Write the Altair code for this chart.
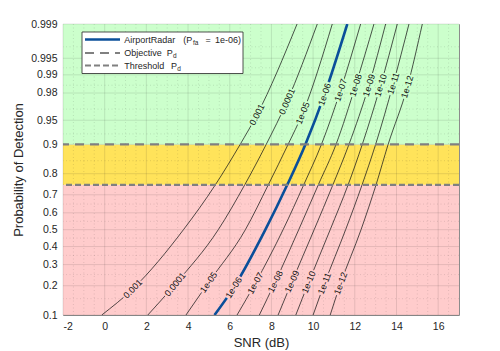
import altair as alt
import pandas as pd
from statistics import NormalDist

_nd = NormalDist()


def probit(p):
    return _nd.inv_cdf(p)


# ---------------- data ----------------
pfa_names = ["0.001", "0.0001", "1e-05", "1e-06", "1e-07",
             "1e-08", "1e-09", "1e-10", "1e-11", "1e-12"]

# SNR (dB) of each Pfa curve at given detection probabilities
snr_at_010 = [-0.14, 2.07, 3.90, 5.27, 6.35, 7.42, 8.32, 9.17, 10.00, 10.82]
snr_at_lo = [1.35, 3.38, 4.99, 6.19, 7.23, 8.19, 8.99, 9.79, 10.55, 11.32]
snr_at_050 = [3.78, 5.45, 6.75, 7.71, 8.56, 9.31, 10.05, 10.82, 11.56, 12.30]
snr_at_075 = [5.31, 6.72, 7.85, 8.76, 9.55, 10.25, 10.95, 11.68, 12.35, 13.02]
snr_at_090 = [6.50, 7.75, 8.80, 9.63, 10.40, 11.10, 11.72, 12.36, 13.00, 13.60]
snr_at_hi = [7.31, 8.75, 9.50, 10.55, 11.32, 12.04, 12.68, 13.24, 13.85, 14.52]
snr_at_999 = [9.23, 10.20, 10.92, 11.64, 12.28, 12.92, 13.48, 14.04, 14.60, 15.24]

# Pd where the contour labels sit (lower / upper label of each curve)
pd_lo = [0.187, 0.206, 0.215, 0.192, 0.211, 0.218, 0.218, 0.215, 0.210, 0.210]
pd_hi = [0.958, 0.973, 0.960, 0.979, 0.982, 0.985, 0.985, 0.985, 0.986, 0.984]
angle_lo = [315, 309, 305, 302, 299, 296, 294, 292, 291, 290]
angle_hi = [297, 294, 292, 289, 288, 287, 287, 287, 287, 287]

highlight = "1e-06"
objective_pd = 0.9
threshold_pd = 0.75
region_bounds = [0.1, 0.75, 0.9, 0.999]
region_colors = ["#ffcccc", "#ffe35a", "#ccffcc"]

x_ticks = [-2, 0, 2, 4, 6, 8, 10, 12, 14, 16]
x_minor = [v / 2 for v in range(-3, 34) if v % 4 != 0]
y_tick_pd = [0.1, 0.2, 0.3, 0.4, 0.5, 0.6, 0.7, 0.8, 0.9,
             0.95, 0.98, 0.99, 0.995, 0.999]
y_tick_labels = ["0.1", "0.2", "0.3", "0.4", "0.5", "0.6", "0.7", "0.8", "0.9",
                 "0.95", "0.98", "0.99", "0.995", "0.999"]
y_minor_pd = [0.15, 0.25, 0.35, 0.45, 0.55, 0.65, 0.85, 0.925, 0.965,
              0.985, 0.9925, 0.997]

X_DOMAIN = [-2, 17]
Y_DOMAIN = [probit(0.1), probit(0.999)]
W, H = 396, 291
FONT = "Liberation Sans"

# ---------------- tables ----------------
rows = []
for i, name in enumerate(pfa_names):
    pts = [(0.1, snr_at_010[i]), (pd_lo[i], snr_at_lo[i]), (0.5, snr_at_050[i]),
           (0.75, snr_at_075[i]), (0.9, snr_at_090[i]), (pd_hi[i], snr_at_hi[i]),
           (0.999, snr_at_999[i])]
    for p, s in pts:
        rows.append({"pfa": name, "snr": s, "z": probit(p), "pd": p})
curves = pd.DataFrame(rows)

lab_rows = []
for i, name in enumerate(pfa_names):
    lab_rows.append({"pfa": name, "snr": snr_at_lo[i], "z": probit(pd_lo[i]),
                     "angle": angle_lo[i], "bg": region_colors[0]})
    lab_rows.append({"pfa": name, "snr": snr_at_hi[i], "z": probit(pd_hi[i]),
                     "angle": angle_hi[i], "bg": region_colors[2]})
labels = pd.DataFrame(lab_rows)

bg = pd.DataFrame({
    "x0": [X_DOMAIN[0]] * 3, "x1": [X_DOMAIN[1]] * 3,
    "z0": [probit(region_bounds[i]) for i in range(3)],
    "z1": [probit(region_bounds[i + 1]) for i in range(3)],
    "c": region_colors,
})

# y-axis label expression (probability scale)
zt = [probit(p) for p in y_tick_pd]
expr = "'" + y_tick_labels[-1] + "'"
for i in range(len(zt) - 2, -1, -1):
    mid = (zt[i] + zt[i + 1]) / 2
    expr = f"datum.value < {mid:.5f} ? '{y_tick_labels[i]}' : ({expr})"

xscale = alt.Scale(domain=X_DOMAIN, nice=False, zero=False)
yscale = alt.Scale(domain=Y_DOMAIN, nice=False, zero=False)
xaxis = alt.Axis(title="SNR (dB)", values=x_ticks, labelExpr="toString(datum.value)",
                 grid=False, domain=False, ticks=False, tickSize=0, labelPadding=6,
                 labelFont=FONT, labelFontSize=10.5, labelColor="#262626",
                 titleFont=FONT, titleFontSize=13, titleFontWeight="normal",
                 titleColor="#262626", titleY=27, titleBaseline="middle")
yaxis = alt.Axis(title="Probability of Detection", values=zt, labelExpr=expr,
                 grid=False, domain=False, ticks=False, tickSize=0, labelPadding=6,
                 labelFont=FONT, labelFontSize=10.5, labelColor="#262626",
                 titleFont=FONT, titleFontSize=13, titleFontWeight="normal",
                 titleColor="#262626", titleX=-45, titleY=H / 2,
                 titleBaseline="middle")


def X(field):
    return alt.X(f"{field}:Q", scale=xscale, axis=xaxis)


def Y(field):
    return alt.Y(f"{field}:Q", scale=yscale, axis=yaxis)


layers = []

# background regions
layers.append(alt.Chart(bg).mark_rect().encode(
    x=X("x0"), x2="x1", y=Y("z0"), y2="z1",
    color=alt.Color("c:N", scale=None)))

# minor grid (dotted)
layers.append(alt.Chart(pd.DataFrame({"v": x_minor})).mark_rule(
    color="#262626", opacity=0.22, strokeWidth=0.6, strokeDash=[1, 2.5]).encode(x=X("v")))
layers.append(alt.Chart(pd.DataFrame({"v": [probit(p) for p in y_minor_pd]})).mark_rule(
    color="#262626", opacity=0.22, strokeWidth=0.6, strokeDash=[1, 2.5]).encode(y=Y("v")))
# major grid
layers.append(alt.Chart(pd.DataFrame({"v": x_ticks})).mark_rule(
    color="#262626", opacity=0.15, strokeWidth=0.8).encode(x=X("v")))
layers.append(alt.Chart(pd.DataFrame({"v": zt})).mark_rule(
    color="#262626", opacity=0.15, strokeWidth=0.8).encode(y=Y("v")))

# Pfa curves
layers.append(alt.Chart(curves[curves.pfa != highlight]).mark_line(
    color="#1a1a1a", strokeWidth=0.75, interpolate="monotone", clip=True).encode(
    x=X("snr"), y=Y("z"), detail="pfa:N", order="pd:Q"))
layers.append(alt.Chart(curves[curves.pfa == highlight]).mark_line(
    color="#0a4f9a", strokeWidth=2.6, interpolate="monotone", clip=True).encode(
    x=X("snr"), y=Y("z"), order="pd:Q"))

# objective / threshold lines
layers.append(alt.Chart(pd.DataFrame({"v": [probit(objective_pd)]})).mark_rule(
    color="#808080", strokeWidth=2.2, strokeDash=[9, 6]).encode(y=Y("v")))
layers.append(alt.Chart(pd.DataFrame({"v": [probit(threshold_pd)]})).mark_rule(
    color="#808080", strokeWidth=2.2, strokeDash=[6, 3]).encode(y=Y("v")))

# contour labels with halo
layers.append(alt.Chart(labels).mark_text(
    font=FONT, fontSize=9, strokeWidth=3.5, align="center", baseline="middle").encode(
    x=X("snr"), y=Y("z"), text="pfa:N", angle=alt.Angle("angle:Q", scale=None),
    fill=alt.Fill("bg:N", scale=None), stroke=alt.Stroke("bg:N", scale=None)))
layers.append(alt.Chart(labels).mark_text(
    font=FONT, fontSize=9, color="#111111", align="center", baseline="middle").encode(
    x=X("snr"), y=Y("z"), text="pfa:N", angle=alt.Angle("angle:Q", scale=None)))

# ---------------- legend (annotation) ----------------
one = alt.Data(values=[{"k": 1}])
layers.append(alt.Chart(one).mark_rect(fill="white", stroke="#262626", strokeWidth=0.8).encode(
    x=alt.value(19), x2=alt.value(180), y=alt.value(8), y2=alt.value(49.5)))
layers.append(alt.Chart(one).mark_rule(color="#0a4f9a", strokeWidth=2.4).encode(
    x=alt.value(22), x2=alt.value(57), y=alt.value(15.5)))
layers.append(alt.Chart(one).mark_rule(color="#808080", strokeWidth=2.2, strokeDash=[9, 6]).encode(
    x=alt.value(22), x2=alt.value(57), y=alt.value(29)))
layers.append(alt.Chart(one).mark_rule(color="#808080", strokeWidth=2.2, strokeDash=[6, 3]).encode(
    x=alt.value(22), x2=alt.value(57), y=alt.value(41.5)))

legend_pieces = [
    ("AirportRadar", 61.3, 15.5, 9), ("(P", 120.3, 15.5, 9), ("fa", 130.0, 18.5, 6.5),
    ("=", 142.5, 15.5, 9), ("1e-06)", 152.0, 15.5, 9),
    ("Objective", 61.3, 29, 9), ("P", 103.7, 29, 9), ("d", 110.0, 32, 6.5),
    ("Threshold", 61.3, 41.5, 9), ("P", 108.0, 41.5, 9), ("d", 114.3, 44.5, 6.5),
]
for txt, px, py, fs in legend_pieces:
    layers.append(alt.Chart(one).mark_text(
        text=txt, font=FONT, fontSize=fs, color="#262626", align="left",
        baseline="middle").encode(x=alt.value(px), y=alt.value(py)))

chart = alt.layer(*layers).properties(
    width=W, height=H,
    autosize=alt.AutoSizeParams(type="none"),
    padding={"left": 63, "top": 24, "right": 41, "bottom": 36},
    background="white",
).configure_view(stroke="#8c8c8c", strokeWidth=1)

chart.save("out.html", embed_options={"renderer": "svg", "actions": False})
